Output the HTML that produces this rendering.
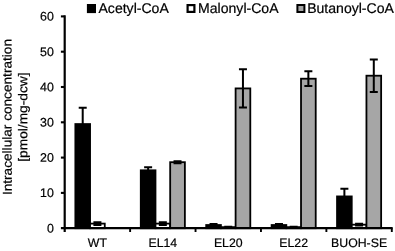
<!DOCTYPE html>
<html><head><meta charset="utf-8"><title>chart</title>
<style>
html,body{margin:0;padding:0;background:#fff;}
body{width:395px;height:251px;overflow:hidden;position:relative;}
svg text{font-family:"Liberation Sans",Arial,sans-serif;fill:#000;stroke:#000;stroke-width:0.2px;}
</style></head><body>
<svg width="395" height="251" viewBox="0 0 395 251" style="position:absolute;left:0;top:0">
<rect width="395" height="251" fill="#fff"/>
<rect x="75.36" y="124.06" width="14.70" height="104.13" fill="#000" stroke="#000" stroke-width="1.8"/>
<rect x="90.06" y="223.61" width="14.70" height="4.59" fill="#fff" stroke="#000" stroke-width="1.8"/>
<rect x="140.78" y="170.31" width="14.70" height="57.89" fill="#000" stroke="#000" stroke-width="1.8"/>
<rect x="155.48" y="223.61" width="14.70" height="4.59" fill="#fff" stroke="#000" stroke-width="1.8"/>
<rect x="170.18" y="162.19" width="14.70" height="66.01" fill="#a6a6a6" stroke="#000" stroke-width="1.8"/>
<rect x="206.20" y="225.02" width="14.70" height="3.18" fill="#000" stroke="#000" stroke-width="1.8"/>
<rect x="220.90" y="227.14" width="14.70" height="1.06" fill="#fff" stroke="#000" stroke-width="1.8"/>
<rect x="235.60" y="88.41" width="14.70" height="139.79" fill="#a6a6a6" stroke="#000" stroke-width="1.8"/>
<rect x="271.62" y="225.02" width="14.70" height="3.18" fill="#000" stroke="#000" stroke-width="1.8"/>
<rect x="286.32" y="227.14" width="14.70" height="1.06" fill="#fff" stroke="#000" stroke-width="1.8"/>
<rect x="301.02" y="78.70" width="14.70" height="149.50" fill="#a6a6a6" stroke="#000" stroke-width="1.8"/>
<rect x="337.04" y="196.43" width="14.70" height="31.77" fill="#000" stroke="#000" stroke-width="1.8"/>
<rect x="351.74" y="224.67" width="14.70" height="3.53" fill="#fff" stroke="#000" stroke-width="1.8"/>
<rect x="366.44" y="75.70" width="14.70" height="152.50" fill="#a6a6a6" stroke="#000" stroke-width="1.8"/>
<path d="M82.71 124.06V107.83M78.71 107.83H86.71" stroke="#000" stroke-width="2.0" fill="none"/>
<path d="M97.41 225.02V222.20M93.41 222.20H101.41M93.41 225.02H101.41" stroke="#000" stroke-width="2.0" fill="none"/>
<path d="M148.13 170.31V167.13M144.13 167.13H152.13" stroke="#000" stroke-width="2.0" fill="none"/>
<path d="M162.83 225.02V222.20M158.83 222.20H166.83M158.83 225.02H166.83" stroke="#000" stroke-width="2.0" fill="none"/>
<path d="M177.53 163.25V161.13M173.53 161.13H181.53M173.53 163.25H181.53" stroke="#000" stroke-width="2.0" fill="none"/>
<path d="M213.55 225.02V223.96M209.55 223.96H217.55" stroke="#000" stroke-width="2.0" fill="none"/>
<path d="M228.25 227.49V226.79M224.25 226.79H232.25M224.25 227.49H232.25" stroke="#000" stroke-width="2.0" fill="none"/>
<path d="M242.95 107.47V69.35M238.95 69.35H246.95M238.95 107.47H246.95" stroke="#000" stroke-width="2.0" fill="none"/>
<path d="M278.97 225.02V223.96M274.97 223.96H282.97" stroke="#000" stroke-width="2.0" fill="none"/>
<path d="M293.67 227.49V226.79M289.67 226.79H297.67M289.67 227.49H297.67" stroke="#000" stroke-width="2.0" fill="none"/>
<path d="M308.37 86.12V71.29M304.37 71.29H312.37M304.37 86.12H312.37" stroke="#000" stroke-width="2.0" fill="none"/>
<path d="M344.39 196.43V188.66M340.39 188.66H348.39" stroke="#000" stroke-width="2.0" fill="none"/>
<path d="M359.09 225.55V223.79M355.09 223.79H363.09M355.09 225.55H363.09" stroke="#000" stroke-width="2.0" fill="none"/>
<path d="M373.79 91.94V59.47M369.79 59.47H377.79M369.79 91.94H377.79" stroke="#000" stroke-width="2.0" fill="none"/>
<path d="M64.7 15.3V232.0" stroke="#000" stroke-width="2.2" fill="none"/>
<path d="M60.900000000000006 228.2H392.7" stroke="#000" stroke-width="2.2" fill="none"/>
<path d="M60.900000000000006 192.90H64.7" stroke="#000" stroke-width="2.1" fill="none"/>
<path d="M60.900000000000006 157.60H64.7" stroke="#000" stroke-width="2.1" fill="none"/>
<path d="M60.900000000000006 122.30H64.7" stroke="#000" stroke-width="2.1" fill="none"/>
<path d="M60.900000000000006 87.00H64.7" stroke="#000" stroke-width="2.1" fill="none"/>
<path d="M60.900000000000006 51.70H64.7" stroke="#000" stroke-width="2.1" fill="none"/>
<path d="M60.900000000000006 16.40H64.7" stroke="#000" stroke-width="2.1" fill="none"/>
<path d="M130.12 228.2V232.0" stroke="#000" stroke-width="1.9" fill="none"/>
<path d="M195.54 228.2V232.0" stroke="#000" stroke-width="1.9" fill="none"/>
<path d="M260.96 228.2V232.0" stroke="#000" stroke-width="1.9" fill="none"/>
<path d="M326.38 228.2V232.0" stroke="#000" stroke-width="1.9" fill="none"/>
<path d="M391.80 228.2V232.0" stroke="#000" stroke-width="1.9" fill="none"/>
<text x="53.8" y="232.40" transform="rotate(0.03 53.8 232.40)" text-anchor="end" font-size="12.4">0</text>
<text x="53.8" y="197.10" transform="rotate(0.03 53.8 197.10)" text-anchor="end" font-size="12.4">10</text>
<text x="53.8" y="161.80" transform="rotate(0.03 53.8 161.80)" text-anchor="end" font-size="12.4">20</text>
<text x="53.8" y="126.50" transform="rotate(0.03 53.8 126.50)" text-anchor="end" font-size="12.4">30</text>
<text x="53.8" y="91.20" transform="rotate(0.03 53.8 91.20)" text-anchor="end" font-size="12.4">40</text>
<text x="53.8" y="55.90" transform="rotate(0.03 53.8 55.90)" text-anchor="end" font-size="12.4">50</text>
<text x="53.8" y="20.60" transform="rotate(0.03 53.8 20.60)" text-anchor="end" font-size="12.4">60</text>
<text x="97.41" y="246.9" transform="rotate(0.03 97.41 246.9)" text-anchor="middle" font-size="12.3">WT</text>
<text x="162.83" y="246.9" transform="rotate(0.03 162.83 246.9)" text-anchor="middle" font-size="12.3">EL14</text>
<text x="228.25" y="246.9" transform="rotate(0.03 228.25 246.9)" text-anchor="middle" font-size="12.3">EL20</text>
<text x="293.67" y="246.9" transform="rotate(0.03 293.67 246.9)" text-anchor="middle" font-size="12.3">EL22</text>
<text x="359.09" y="246.9" transform="rotate(0.03 359.09 246.9)" text-anchor="middle" font-size="12.3">BUOH-SE</text>
<rect x="86.9" y="4.0" width="9.1" height="9.1" fill="#000"/>
<text x="98.5" y="13.0" transform="rotate(0.03 98.5 13)" font-size="14.05">Acetyl-CoA</text>
<rect x="187.6" y="5.1" width="6.8" height="6.8" fill="#fff" stroke="#000" stroke-width="2.2"/>
<text x="198.1" y="13.0" transform="rotate(0.03 198.1 13)" font-size="14.05">Malonyl-CoA</text>
<rect x="297.4" y="5.0" width="7.0" height="7.0" fill="#a6a6a6" stroke="#000" stroke-width="2.0"/>
<text x="307.2" y="13.0" transform="rotate(0.03 307.2 13)" font-size="14.05">Butanoyl-CoA</text>
<text transform="translate(11.6 117.05) rotate(-90.03) scale(1.065 1)" text-anchor="middle" font-size="12.8">Intracellular concentration</text>
<text transform="translate(27.3 117.1) rotate(-90.03) scale(1.073 1)" text-anchor="middle" font-size="12.8">[pmol/mg-dcw]</text>
</svg>
</body></html>
